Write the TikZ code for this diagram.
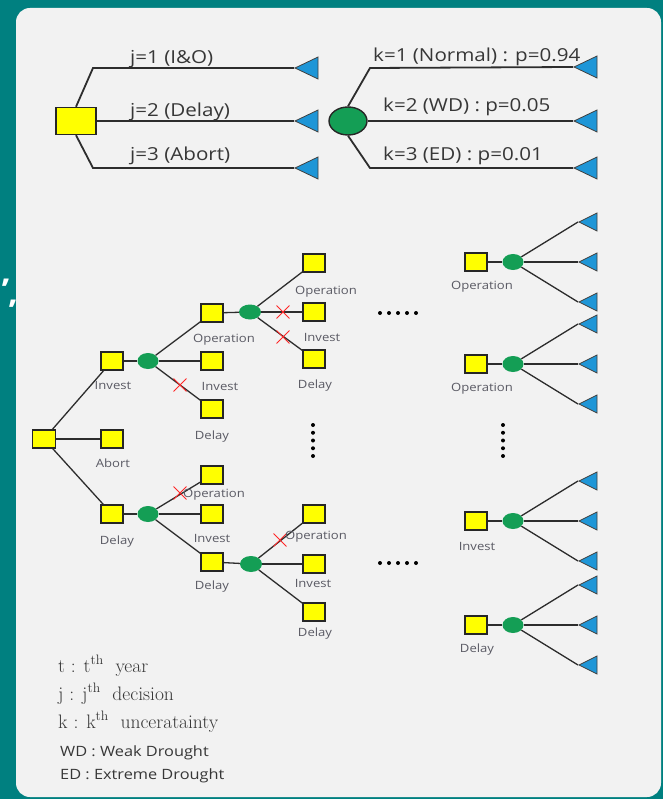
\documentclass[tikz,border=0pt]{standalone}
\usepackage{fontspec}
\newfontfamily\lblfont[FakeStretch=1.15]{Open Sans}
\usetikzlibrary{shapes.geometric}
\usetikzlibrary{shapes.misc}
\definecolor{tealbg}{RGB}{0,128,128}
\definecolor{panel}{RGB}{242,242,242}
\definecolor{boxyel}{RGB}{255,255,0}
\definecolor{chgreen}{RGB}{20,158,85}
\definecolor{leafblue}{RGB}{30,150,215}
\definecolor{edgegray}{RGB}{45,45,45}
\definecolor{txtgray}{RGB}{90,90,100}
\definecolor{txtdark}{RGB}{55,55,55}

\begin{document}
\begin{tikzpicture}[x=1pt,y=-1pt,
  dec/.style={rectangle,draw=black!85,fill=boxyel,line width=1.2pt,minimum width=22pt,minimum height=18pt,inner sep=0pt},
  chn/.style={ellipse,fill=chgreen,minimum width=21pt,minimum height=16pt,inner sep=0pt},
  leaf/.style={isosceles triangle,isosceles triangle stretches,shape border rotate=180,fill=leafblue,draw=black!75,line width=0.8pt,minimum width=18pt,minimum height=18pt,inner sep=0pt,anchor=apex},
  bigleaf/.style={leaf,minimum width=22pt,minimum height=23pt},
  lbl/.style={font=\lblfont\fontsize{11.4}{13}\selectfont,text=txtgray,inner sep=0pt},
  toplbl/.style={font=\lblfont\fontsize{17.9}{20}\selectfont,text=txtdark,inner sep=0pt,anchor=base west},
  keyserif/.style={anchor=base west,font=\fontsize{19.5}{22}\selectfont,text=txtdark,inner sep=0pt},
  keysans/.style={anchor=base west,font=\lblfont\fontsize{14.2}{16}\selectfont,text=txtdark,inner sep=0pt},
  br/.style={draw=edgegray,line width=1.3pt},
  brtop/.style={draw=edgegray,line width=1.8pt},
  cut/.style={cross out,draw=red!85,line width=0.9pt,minimum size=12pt,inner sep=0pt}
]
\useasboundingbox (0,0) rectangle (663,799);
\fill[tealbg] (0,0) rectangle (663,799);
\fill[panel,rounded corners=14pt] (16,8) rectangle (661,797);
\node[text=white,font=\lblfont\bfseries\fontsize{30}{21}\selectfont,align=left,anchor=north west,inner sep=0pt] (cm) at (1,279) {,\\\hspace{7pt},};

% top: decision j
\node[dec,minimum width=40pt,minimum height=27pt,line width=1.4pt] (d0) at (76,121) {};
\coordinate (j1) at (93,68);
\coordinate (j3) at (93,168);
\node[bigleaf] (tj1) at (294,68) {};
\node[bigleaf] (tj2) at (294,121) {};
\node[bigleaf] (tj3) at (294,168) {};
\draw[brtop] (d0.north) -- (j1) -- (tj1.apex);
\draw[brtop] (d0) -- (tj2.apex);
\draw[brtop] (d0.south) -- (j3) -- (tj3.apex);
\node[toplbl] (lj1) at (130,64) {j=1 (I\&O)};
\node[toplbl] (lj2) at (130,117) {j=2 (Delay)};
\node[toplbl] (lj3) at (130,161) {j=3 (Abort)};

% top: uncertainty k
\node[chn,draw=black!85,line width=1.4pt,minimum width=38pt,minimum height=28pt] (c0) at (348,121) {};
\coordinate (k1) at (370,68);
\coordinate (k3) at (370,168);
\node[bigleaf] (tk1) at (573,67) {};
\node[bigleaf] (tk2) at (573,121) {};
\node[bigleaf] (tk3) at (573,168) {};
\draw[brtop] (c0.north) -- (k1) -- (tk1.apex);
\draw[brtop] (c0) -- (tk2.apex);
\draw[brtop] (c0.south) -- (k3) -- (tk3.apex);
\node[toplbl] (lk1) at (373,62) {k=1 (Normal) : p=0.94};
\node[toplbl] (lk2) at (383,112) {k=2 (WD) : p=0.05};
\node[toplbl] (lk3) at (383,161) {k=3 (ED) : p=0.01};

% tree over the years
\node[dec,minimum width=23pt] (r0) at (44,439) {};
\node[dec] (i1) at (112,361) {};
\node[dec] (a1) at (112,439) {};
\node[dec] (d1) at (112,514) {};
\node[chn] (c1) at (148,361) {};
\node[chn] (c2) at (148,514) {};
\node[dec] (o2a) at (212,313) {};
\node[dec] (i2a) at (212,361) {};
\node[dec] (d2a) at (212,409) {};
\node[dec] (o2b) at (212,475) {};
\node[dec] (i2b) at (212,514) {};
\node[dec] (d2b) at (212,562) {};
\node[chn,minimum width=22pt,minimum height=15pt] (c3) at (250,312) {};
\node[chn,minimum width=22pt] (c4) at (251,564) {};
\node[dec] (o3a) at (314,263) {};
\node[dec] (i3a) at (314,312) {};
\node[dec] (d3a) at (314,359) {};
\node[dec] (o3b) at (314,514) {};
\node[dec] (i3b) at (314,564) {};
\node[dec] (d3b) at (314,612) {};

\draw[br] (r0) -- (i1);
\draw[br] (r0) -- (a1);
\draw[br] (r0) -- (d1);
\draw[br] (i1) -- (c1);
\draw[br] (d1) -- (c2);
\draw[br] (c1) -- (o2a);
\draw[br] (c1) -- (i2a);
\draw[br] (c1) -- (d2a);
\draw[br] (c2) -- (o2b);
\draw[br] (c2) -- (i2b);
\draw[br] (c2) -- (d2b);
\draw[br] (o2a) -- (c3);
\draw[br] (d2b) -- (c4);
\draw[br] (c3) -- (o3a);
\draw[br] (c3) -- (i3a);
\draw[br] (c3) -- (d3a);
\draw[br] (c4) -- (o3b);
\draw[br] (c4) -- (i3b);
\draw[br] (c4) -- (d3b);

\node[cut] (x1) at (180,385) {};
\node[cut] (x2) at (283,312) {};
\node[cut] (x3) at (283,337) {};
\node[cut] (x4) at (180,493) {};
\node[cut] (x5) at (280,540) {};

\node[lbl] (li1) at (113,385) {Invest};
\node[lbl] (la1) at (113,463) {Abort};
\node[lbl] (ld1) at (117,542) {Delay};
\node[lbl] (lo2a) at (224,340) {Operation};
\node[lbl] (li2a) at (220,386) {Invest};
\node[lbl] (ld2a) at (212,437) {Delay};
\node[lbl] (lo2b) at (214,495) {Operation};
\node[lbl] (li2b) at (212,538) {Invest};
\node[lbl] (ld2b) at (212,587) {Delay};
\node[lbl] (lo3a) at (326,292) {Operation};
\node[lbl] (li3a) at (322,337) {Invest};
\node[lbl] (ld3a) at (315,386) {Delay};
\node[lbl] (lo3b) at (316,537) {Operation};
\node[lbl] (li3b) at (313,583) {Invest};
\node[lbl] (ld3b) at (315,634) {Delay};

% last year, leaves
\foreach \n/\y/\lx/\t in {1/262/482/Operation,2/364/482/Operation,3/521/477/Invest,4/625/477/Delay}{
  \node[dec] (g\n) at (476,\y) {};
  \node[chn] (h\n) at (513,\y) {};
  \node[leaf] (t\n a) at (578,\y-40) {};
  \node[leaf] (t\n b) at (578,\y) {};
  \node[leaf] (t\n c) at (578,\y+40) {};
  \draw[br] (g\n) -- (h\n);
  \draw[br] (h\n) -- (t\n a.apex);
  \draw[br] (h\n) -- (t\n b.apex);
  \draw[br] (h\n) -- (t\n c.apex);
  \node[lbl] (lg\n) at (\lx,\y+25) {\t};
}

% ellipsis dots
\foreach \k in {0,...,4}{
  \fill (313,425+7.75*\k) circle (2pt);
  \fill (503,425+7.75*\k) circle (2pt);
  \fill (380+9*\k,313) circle (2pt);
  \fill (380+9*\k,563) circle (2pt);
}

% legend
\node[keyserif] (lt) at (58,672) {t : t\textsuperscript{th}\ \ year};
\node[keyserif] (lj) at (58,700) {j : j\textsuperscript{th}\ \ decision};
\node[keyserif] (lk) at (58,728) {k : k\textsuperscript{th}\ \ unceratainty};
\node[keysans] (lwd) at (60,756) {WD : Weak Drought};
\node[keysans] (led) at (60,779) {ED : Extreme Drought};
\end{tikzpicture}
\end{document}
